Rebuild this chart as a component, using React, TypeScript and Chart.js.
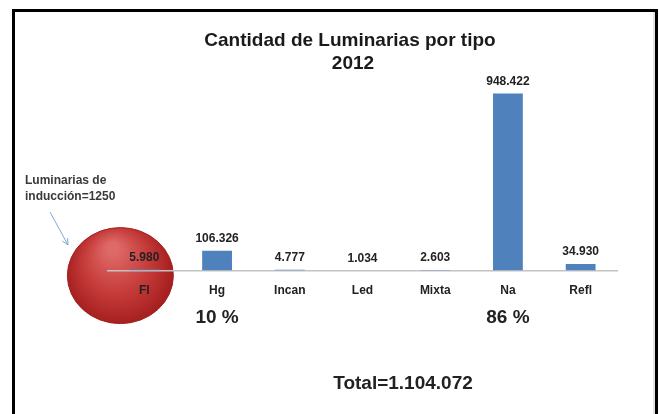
import React, { useEffect, useRef } from "react";
import { Chart, registerables } from "chart.js";

Chart.register(...registerables);

const categories = ["Fl", "Hg", "Incan", "Led", "Mixta", "Na", "Refl"];
const values = [5980, 106326, 4777, 1034, 2603, 948422, 34930];
const percentCategories = ["Hg", "Na"];
const titleLines = ["Cantidad de Luminarias por tipo", "2012"];
const inductionLines = ["Luminarias de", "inducción=1250"];
const circledCategory = "Fl";

const FONT = "'Liberation Sans', Arial, sans-serif";

function fmt(n: number): string {
  return String(n).replace(/\B(?=(\d{3})+(?!\d))/g, ".");
}

export default function App() {
  const ref = useRef<HTMLCanvasElement | null>(null);

  useEffect(() => {
    const canvas = ref.current;
    if (!canvas) return;
    const total = values.reduce((a, b) => a + b, 0);

    const decor = {
      id: "decor",
      beforeDraw(chart: any) {
        const ctx = chart.ctx;
        const x = chart.scales.x;
        const idx = categories.indexOf(circledCategory);
        const cx = x.getPixelForValue(idx) - 24;
        const cy = chart.chartArea.bottom + 5;
        ctx.save();
        const g = ctx.createRadialGradient(cx - 8, cy - 28, 5, cx, cy, 62);
        g.addColorStop(0, "#de6a68");
        g.addColorStop(0.5, "#c43a38");
        g.addColorStop(1, "#981414");
        ctx.beginPath();
        ctx.ellipse(cx, cy, 53, 48, 0, 0, Math.PI * 2);
        ctx.fillStyle = g;
        ctx.fill();
        ctx.strokeStyle = "#a52020";
        ctx.lineWidth = 1;
        ctx.stroke();
        ctx.restore();
      },
      afterDraw(chart: any) {
        const ctx = chart.ctx;
        const meta = chart.getDatasetMeta(0);
        const xs = chart.scales.x;
        ctx.save();
        // value labels
        ctx.fillStyle = "#222";
        ctx.textAlign = "center";
        ctx.textBaseline = "middle";
        ctx.font = `bold 12px ${FONT}`;
        meta.data.forEach((bar: any, i: number) => {
          ctx.fillText(fmt(values[i]), bar.x, bar.y - 12);
        });
        // percentages
        ctx.font = `bold 19px ${FONT}`;
        percentCategories.forEach((c) => {
          const i = categories.indexOf(c);
          const pct = Math.round((values[i] / total) * 100);
          ctx.fillText(`${pct} %`, xs.getPixelForValue(i), 318);
        });
        // total
        ctx.fillText(`Total=${fmt(total)}`, 403, 384);
        // title
        ctx.fillStyle = "#1a1a1a";
        ctx.font = `bold 19px ${FONT}`;
        ctx.fillText(titleLines[0], 350, 41);
        ctx.fillText(titleLines[1], 353, 64);
        // induction note
        ctx.fillStyle = "#3a3a3a";
        ctx.textAlign = "left";
        ctx.font = `bold 12px ${FONT}`;
        ctx.fillText(inductionLines[0], 25, 181);
        ctx.fillText(inductionLines[1], 25, 197);
        // arrow
        ctx.strokeStyle = "#7fa8d8";
        ctx.lineWidth = 1;
        ctx.beginPath();
        ctx.moveTo(50, 212);
        ctx.lineTo(68, 245);
        ctx.stroke();
        const ang = Math.atan2(245 - 212, 68 - 50);
        ctx.beginPath();
        ctx.moveTo(68, 245);
        ctx.lineTo(68 - 7 * Math.cos(ang - 0.45), 245 - 7 * Math.sin(ang - 0.45));
        ctx.moveTo(68, 245);
        ctx.lineTo(68 - 7 * Math.cos(ang + 0.45), 245 - 7 * Math.sin(ang + 0.45));
        ctx.stroke();
        // frame
        ctx.strokeStyle = "#000";
        ctx.lineWidth = 3;
        ctx.beginPath();
        ctx.moveTo(13.5, 420);
        ctx.lineTo(13.5, 10.5);
        ctx.lineTo(656.5, 10.5);
        ctx.lineTo(656.5, 420);
        ctx.stroke();
        ctx.strokeStyle = "#c8c8c8";
        ctx.lineWidth = 1;
        ctx.beginPath();
        ctx.moveTo(654, 12);
        ctx.lineTo(654, 420);
        ctx.stroke();
        ctx.restore();
      },
    };

    const chart = new Chart(canvas, {
      type: "bar",
      data: {
        labels: categories,
        datasets: [
          {
            data: values,
            backgroundColor: "#4f81bd",
            borderWidth: 0,
            categoryPercentage: 1,
            barPercentage: 0.41,
          },
        ],
      },
      options: {
        animation: false,
        responsive: false,
        maintainAspectRatio: false,
        devicePixelRatio: 1,
        layout: { padding: { top: 84, bottom: 103, left: 108, right: 42 } },
        plugins: { legend: { display: false }, tooltip: { enabled: false }, title: { display: false } },
        scales: {
          y: { display: false, min: 0, max: 1000000 },
          x: {
            grid: { display: false, drawTicks: false, tickLength: 0 },
            border: { display: true, color: "#c4c4c4", width: 1.5 },
            ticks: {
              color: "#222",
              padding: 13,
              font: { family: FONT, size: 12, weight: "bold" },
            },
          },
        },
      },
      plugins: [decor],
    });
    return () => chart.destroy();
  }, []);

  return (
    <div style={{ position: "fixed", left: 0, top: 0, width: 659, height: 414, background: "#fff" }}>
      <canvas ref={ref} width={659} height={414} style={{ width: 659, height: 414, display: "block" }} />
    </div>
  );
}
